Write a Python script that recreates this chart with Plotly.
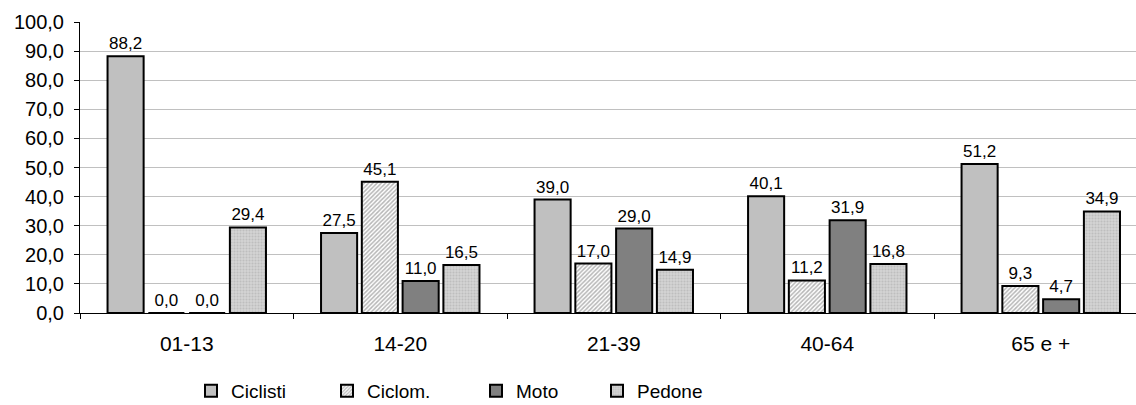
import plotly.graph_objects as go

categories = ["01-13", "14-20", "21-39", "40-64", "65 e +"]
ciclisti = [88.2, 27.5, 39.0, 40.1, 51.2]
ciclom = [0.0, 45.1, 17.0, 11.2, 9.3]
moto = [0.0, 11.0, 29.0, 31.9, 4.7]
pedone = [29.4, 16.5, 14.9, 16.8, 34.9]
y_ticks = [0, 10, 20, 30, 40, 50, 60, 70, 80, 90, 100]

FONT = "Liberation Sans, Arial, sans-serif"
outline = dict(color="black", width=2)

# plot area geometry (px) used to place the legend entries
PLOT_LEFT, PLOT_W, PLOT_H = 80, 1056, 291
legend_px = [191, 327, 476, 597]
legend_ids = ["legend", "legend2", "legend3", "legend4"]

series = [
    ("Ciclisti", ciclisti, dict(color="#c0c0c0", line=outline)),
    ("Ciclom.", ciclom, dict(color="#ffffff", line=outline,
                             pattern=dict(shape="/", fgcolor="#6e6e6e", bgcolor="#ffffff",
                                          size=3, solidity=0.5))),
    ("Moto", moto, dict(color="#808080", line=outline)),
    ("Pedone", pedone, dict(color="#c8c8c8", line=outline,
                            pattern=dict(shape=".", fgcolor="#a8a8a8", bgcolor="#d4d4d4",
                                         size=3, solidity=0.4))),
]

fig = go.Figure()
for (name, vals, marker), lid in zip(series, legend_ids):
    fig.add_trace(go.Bar(
        name=name, x=categories, y=vals, marker=marker, legend=lid,
        text=[f"{v:.1f}".replace(".", ",") for v in vals],
        textposition="outside", cliponaxis=False,
        textfont=dict(family=FONT, size=17, color="black"),
    ))

legend_y = -78 / PLOT_H
layout_legends = {}
for lid, px in zip(legend_ids, legend_px):
    layout_legends[lid] = dict(
        x=(px - PLOT_LEFT) / PLOT_W, xanchor="left",
        y=legend_y, yanchor="middle",
        font=dict(family=FONT, size=19), itemwidth=30,
        bgcolor="rgba(0,0,0,0)", borderwidth=0,
    )

fig.update_layout(
    width=1136, height=405,
    margin=dict(l=PLOT_LEFT, r=0, t=22, b=92, autoexpand=False),
    paper_bgcolor="white", plot_bgcolor="white",
    barmode="group", bargap=0.236, bargroupgap=0.115,
    separators=",.",
    font=dict(family=FONT, size=17, color="black"),
    showlegend=True,
    **layout_legends,
)
fig.update_yaxes(
    range=[0, 100], tickvals=y_ticks, tickformat=".1f",
    showgrid=True, gridcolor="#c0c0c0", gridwidth=1,
    showline=True, linecolor="black", linewidth=1,
    ticks="outside", ticklen=5, tickcolor="black", ticklabelstandoff=6,
    tickfont=dict(family=FONT, size=20), zeroline=False, automargin=False,
)
fig.update_xaxes(
    range=[-0.5, 4.446],
    showline=True, linecolor="black", linewidth=1,
    ticks="outside", ticklen=5, tickcolor="black", tickson="boundaries",
    ticklabelstandoff=12, automargin=False,
    tickfont=dict(family=FONT, size=21), showgrid=False,
)

fig.write_html("out.html")
